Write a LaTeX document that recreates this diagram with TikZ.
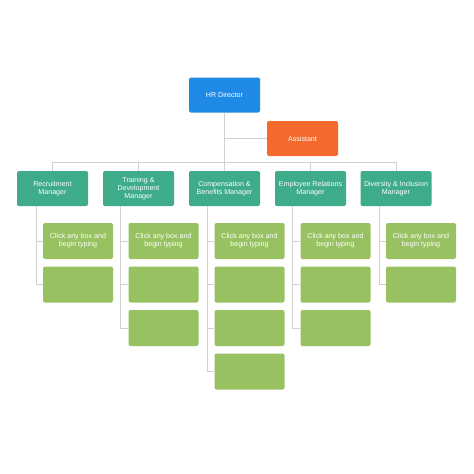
\documentclass[tikz,border=0pt]{standalone}
\usepackage{fontspec}
\setmainfont{Liberation Sans}
\usepackage{tikz}
\usetikzlibrary{positioning, calc}
\usepackage{xcolor}

\definecolor{hrblue}{HTML}{1E8AE6}
\definecolor{asstorange}{HTML}{F46A2C}
\definecolor{mgrteal}{HTML}{3EAB8B}
\definecolor{boxgreen}{HTML}{98C262}
\definecolor{linegray}{HTML}{D0D0D0}

\tikzset{
    orgbox/.style={rounded corners=2pt, draw=none, text=white, align=center,
        minimum width=71pt, minimum height=35pt, inner sep=1pt,
        font=\fontsize{7.1}{8.2}\selectfont},
    topbox/.style={orgbox, fill=hrblue},
    asstbox/.style={orgbox, fill=asstorange},
    mgrbox/.style={orgbox, fill=mgrteal},
    taskbox/.style={orgbox, fill=boxgreen, minimum width=70pt, minimum height=36pt},
    conn/.style={draw=linegray, line width=0.6pt}
}

\begin{document}
\begin{tikzpicture}[x=1pt, y=-1pt]
            \useasboundingbox (0,0) rectangle (474,474);

            % top level
            \node[topbox] (hr) at (224.5,95) {HR Director};
            \node[asstbox] (asst) at (302.5,138.5) {Assistant};

            % managers
            \node[mgrbox] (rec) at (52.5,188.5) {Recruitment\\Manager};
            \node[mgrbox] (train) at (138.5,188.5) {Training \&\\Development\\Manager};
            \node[mgrbox] (comp) at (224.5,188.5) {Compensation \&\\Benefits Manager};
            \node[mgrbox] (emp) at (310.5,188.5) {Employee Relations\\Manager};
            \node[mgrbox] (div) at (396,188.5) {Diversity \& Inclusion\\Manager};

            % recruitment
            \node[taskbox] (rec1) at (78,241) {Click any box and\\begin typing};
            \node[taskbox] (rec2) at (78,284.5) {};

            % training
            \node[taskbox] (train1) at (163.5,241) {Click any box and\\begin typing};
            \node[taskbox] (train2) at (163.5,284.5) {};
            \node[taskbox] (train3) at (163.5,328) {};

            % compensation
            \node[taskbox] (comp1) at (249.5,241) {Click any box and\\begin typing};
            \node[taskbox] (comp2) at (249.5,284.5) {};
            \node[taskbox] (comp3) at (249.5,328) {};
            \node[taskbox] (comp4) at (249.5,371.5) {};

            % employee relations
            \node[taskbox] (emp1) at (335.5,241) {Click any box and\\begin typing};
            \node[taskbox] (emp2) at (335.5,284.5) {};
            \node[taskbox] (emp3) at (335.5,328) {};

            % diversity
            \node[taskbox] (div1) at (421,241) {Click any box and\\begin typing};
            \node[taskbox] (div2) at (421,284.5) {};

            % lines from the top
            \draw[conn] (hr.south) |- (asst.west);
            \draw[conn] (hr.south) -- (comp.north);
            \draw[conn] (hr.south) -- ++(0,50) -| (rec.north);
            \draw[conn] (hr.south) -- ++(0,50) -| (train.north);
            \draw[conn] (hr.south) -- ++(0,50) -| (emp.north);
            \draw[conn] (hr.south) -- ++(0,50) -| (div.north);

            % lines to the boxes
            \draw[conn] ($(rec.south west)+(19,0)$) |- (rec1.west);
            \draw[conn] ($(rec.south west)+(19,0)$) |- (rec2.west);
            \draw[conn] ($(train.south west)+(17,0)$) |- (train1.west);
            \draw[conn] ($(train.south west)+(17,0)$) |- (train2.west);
            \draw[conn] ($(train.south west)+(17,0)$) |- (train3.west);
            \draw[conn] ($(comp.south west)+(18,0)$) |- (comp1.west);
            \draw[conn] ($(comp.south west)+(18,0)$) |- (comp2.west);
            \draw[conn] ($(comp.south west)+(18,0)$) |- (comp3.west);
            \draw[conn] ($(comp.south west)+(18,0)$) |- (comp4.west);
            \draw[conn] ($(emp.south west)+(17,0)$) |- (emp1.west);
            \draw[conn] ($(emp.south west)+(17,0)$) |- (emp2.west);
            \draw[conn] ($(emp.south west)+(17,0)$) |- (emp3.west);
            \draw[conn] ($(div.south west)+(19,0)$) |- (div1.west);
            \draw[conn] ($(div.south west)+(19,0)$) |- (div2.west);
        \end{tikzpicture}
\end{document}
